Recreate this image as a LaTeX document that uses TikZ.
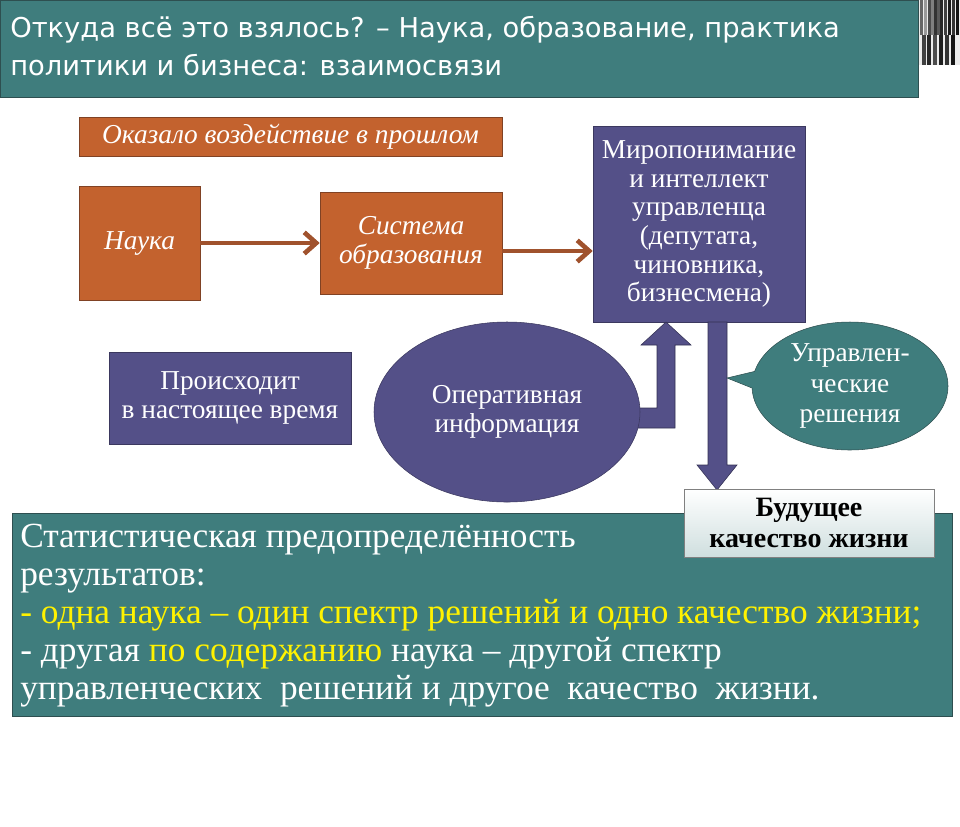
\documentclass[tikz,border=0pt]{standalone}
\usepackage{fontspec}
\setmainfont{Liberation Serif}
\newfontfamily\ttl{DejaVu Sans}
\usetikzlibrary{shapes.geometric,shapes.callouts,arrows.meta}
\definecolor{teal1}{HTML}{3F7D7D}
\definecolor{orng}{HTML}{C3622E}
\definecolor{purp}{HTML}{545088}
\definecolor{brn}{HTML}{A0522D}
\definecolor{bord}{HTML}{2E4F50}
\tikzset{
 obox/.style={draw=brn!80!black,fill=orng,text=white,font=\itshape\fontsize{20.5}{22}\selectfont,align=center,inner sep=0},
 pbox/.style={draw=purp!70!black,fill=purp,text=white,font=\fontsize{20.5}{21.5}\selectfont,align=center,inner sep=0},
 barr/.style={draw=brn,line width=3.5pt,-{Straight Barb[length=9pt,width=16pt]}},
}
\begin{document}
\begin{tikzpicture}[x=0.75pt,y=-0.75pt]
\useasboundingbox (0,0) rectangle (960,826);
% stripes
\fill[black!8] (918,0) rectangle (960,65);
\foreach \xx/\g in {920/60,924/40,928/70,931/50,934/80,937/65,940/85,944/75,948/90,952/80,956/92}
  \fill[black!\g!white] (\xx,0) rectangle ++(3,35);
\foreach \xx/\g in {922/75,927/85,933/70,939/88,945/80,951/92}
  \fill[black!\g!white] (\xx,35) rectangle ++(4,30);
% title
\node[draw=bord,fill=teal1,minimum width=918*0.75pt,minimum height=97*0.75pt,anchor=north west,inner sep=0] (title) at (0,0) {};
\node[anchor=north west,text=white,font=\ttl\fontsize{20.5}{28.5}\selectfont,align=left,inner sep=0] (tt) at (10,16) {Откуда всё это взялось? – Наука, образование, практика\\политики и бизнеса: взаимосвязи};
% past label
\node[obox,minimum width=423*0.75pt,minimum height=39*0.75pt] (past) at (290.5,136.5) {Оказало воздействие в прошлом};
\node[obox,minimum width=121*0.75pt,minimum height=114*0.75pt] (nauka) at (139.5,243) {Наука};
\node[obox,minimum width=182*0.75pt,minimum height=102*0.75pt] (sys) at (411,243) {Система\\образования};
\node[pbox,minimum width=212*0.75pt,minimum height=196*0.75pt] (mir) at (699,224) {Миропонимание\\и интеллект\\управленца\\(депутата,\\чиновника,\\бизнесмена)};
\draw[barr] (nauka.east) -- (sys.west);
\draw[barr] (sys.east |- 0,251) -- (mir.west |- 0,251);
\node[pbox,minimum width=242*0.75pt,minimum height=92*0.75pt] (now) at (230,398) {Происходит\\в настоящее время};
% up arrow
\fill[purp,draw=purp!60!black] (630,408) -- (657,408) -- (657,345) -- (641,345) -- (666,322) -- (691,345) -- (675,345) -- (675,428) -- (630,428) -- cycle;
\node[ellipse,pbox,minimum width=266*0.75pt,minimum height=180*0.75pt] (op) at (507,412) {Оперативная\\информация};
% down arrow
\fill[purp,draw=purp!60!black] (708,322) -- (727,322) -- (727,465) -- (737,465) -- (717,490) -- (697,465) -- (708,465) -- cycle;
% callout
\node[ellipse callout,draw=bord,fill=teal1,text=white,font=\fontsize{20.5}{23}\selectfont,align=center,minimum width=196*0.75pt,minimum height=128*0.75pt,inner sep=0,callout absolute pointer={(727,378)}] (ur) at (850,386) {Управлен-\\ческие\\решения};
% bottom box
\node[draw=bord,fill=teal1,minimum width=940*0.75pt,minimum height=203*0.75pt,anchor=north west,inner sep=0] (bot) at (12,513) {};
\node[anchor=north west,text=white,font=\fontsize{26.5}{28.5}\selectfont,align=left,inner sep=0] (bt) at (20,524) {Статистическая предопределённость\\результатов:\\\textcolor{yellow}{- одна наука – один спектр решений и одно качество жизни;}\\- другая \textcolor{yellow}{по содержанию} наука – другой спектр\\управленческих\ \ решений и другое\ \ качество\ \ жизни.};
% future box
\node[draw=gray,top color=white,bottom color=teal1!25,font=\bfseries\fontsize{21}{23}\selectfont,align=center,minimum width=250*0.75pt,minimum height=68*0.75pt,inner sep=0] (fut) at (809,523) {Будущее\\качество жизни};
\end{tikzpicture}
\end{document}
